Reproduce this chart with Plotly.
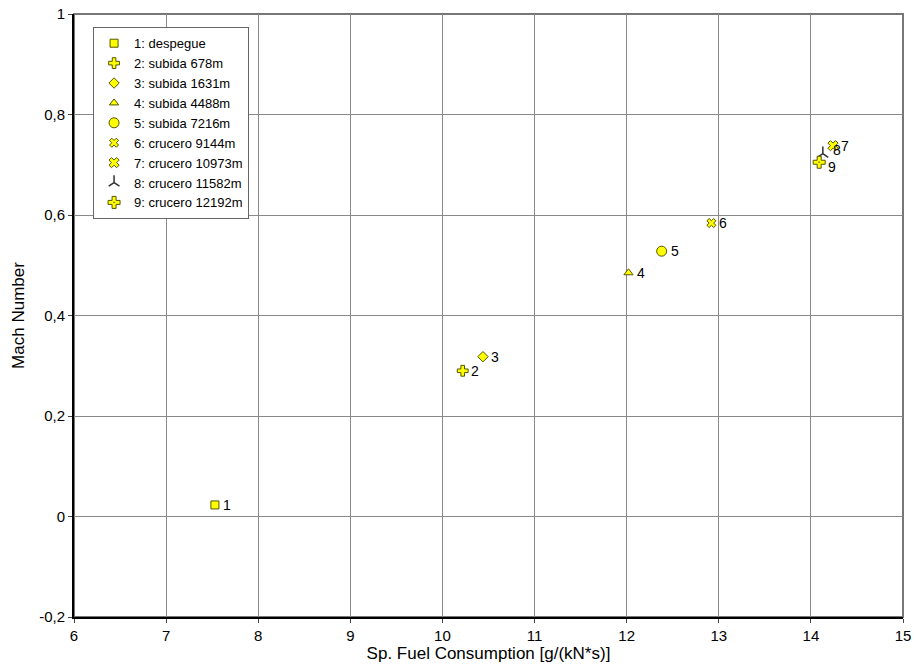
import plotly.graph_objects as go

labels = ["1: despegue", "2: subida 678m", "3: subida 1631m", "4: subida 4488m",
          "5: subida 7216m", "6: crucero 9144m", "7: crucero 10973m",
          "8: crucero 11582m", "9: crucero 12192m"]
point_text = ["1", "2", "3", "4", "5", "6", "7", "8", "9"]
sfc = [7.53, 10.22, 10.44, 12.02, 12.38, 12.92, 14.24, 14.13, 14.09]
mach = [0.023, 0.290, 0.318, 0.485, 0.528, 0.584, 0.738, 0.722, 0.705]
y_ticks = [-0.2, 0, 0.2, 0.4, 0.6, 0.8, 1]
y_ticklabels = ["-0,2", "0", "0,2", "0,4", "0,6", "0,8", "1"]

symbols = ["square", "cross", "diamond", "triangle-up", "circle",
           "x", "x", "y-up", "cross-dot"]
sizes = [8, 9, 8, 8, 10, 8, 9, 9, 10]
label_yshift = [0, 0, 0, 0, 0, 0, 0, 4, -5]
label_xshift = [6, 6, 6, 6, 7, 6, 6, 8, 7]

fig = go.Figure()
for i in range(len(labels)):
    sym = symbols[i]
    if sym == "y-up":
        marker = dict(symbol=sym, size=sizes[i], color="#ffff00",
                      line=dict(color="#333333", width=1.5))
    else:
        marker = dict(symbol=sym, size=sizes[i], color="#ffff00",
                      line=dict(color="#555500", width=1))
    fig.add_trace(go.Scatter(
        x=[sfc[i]], y=[mach[i]], mode="markers",
        name=labels[i], marker=marker, cliponaxis=False))
    fig.add_annotation(x=sfc[i], y=mach[i], text=point_text[i], showarrow=False,
                       xanchor="left", yanchor="middle",
                       xshift=label_xshift[i], yshift=label_yshift[i],
                       font=dict(family="Liberation Sans, Arial", size=14,
                                 color="black"))

fig.update_layout(
    width=916, height=666,
    margin=dict(l=74, r=13, t=14, b=49),
    paper_bgcolor="white", plot_bgcolor="white",
    font=dict(family="Liberation Sans, Arial", color="black"),
    showlegend=True,
    separators=",.",
    legend=dict(x=0.023, y=0.978, xanchor="left", yanchor="top",
                bgcolor="white", bordercolor="#666666", borderwidth=1,
                font=dict(size=13), tracegroupgap=0, itemwidth=30),
    xaxis=dict(range=[6, 15], dtick=1, showgrid=True, gridcolor="#888888",
               gridwidth=1, showline=True, linecolor="black", linewidth=2,
               ticks="outside", ticklen=4, tickcolor="#444", automargin=False,
               tickfont=dict(size=15), zeroline=False,
               title=dict(text="Sp. Fuel Consumption [g/(kN*s)]",
                          font=dict(size=17), standoff=0)),
    yaxis=dict(range=[-0.2, 1], showgrid=True, gridcolor="#888888",
               gridwidth=1, showline=True, linecolor="black", linewidth=2,
               ticks="outside", ticklen=4, tickcolor="#444", automargin=False,
               tickfont=dict(size=15), zeroline=False,
               tickvals=y_ticks, ticktext=y_ticklabels,
               title=dict(text="Mach Number", font=dict(size=17), standoff=10)),
)
fig.add_shape(type="rect", xref="paper", yref="paper", x0=0, y0=0, x1=1, y1=1,
              line=dict(color="#777777", width=2), layer="below")
fig.write_html("out.html", config={"displayModeBar": False},
               post_script="document.body.style.margin='0px';document.body.style.overflow='hidden';")
